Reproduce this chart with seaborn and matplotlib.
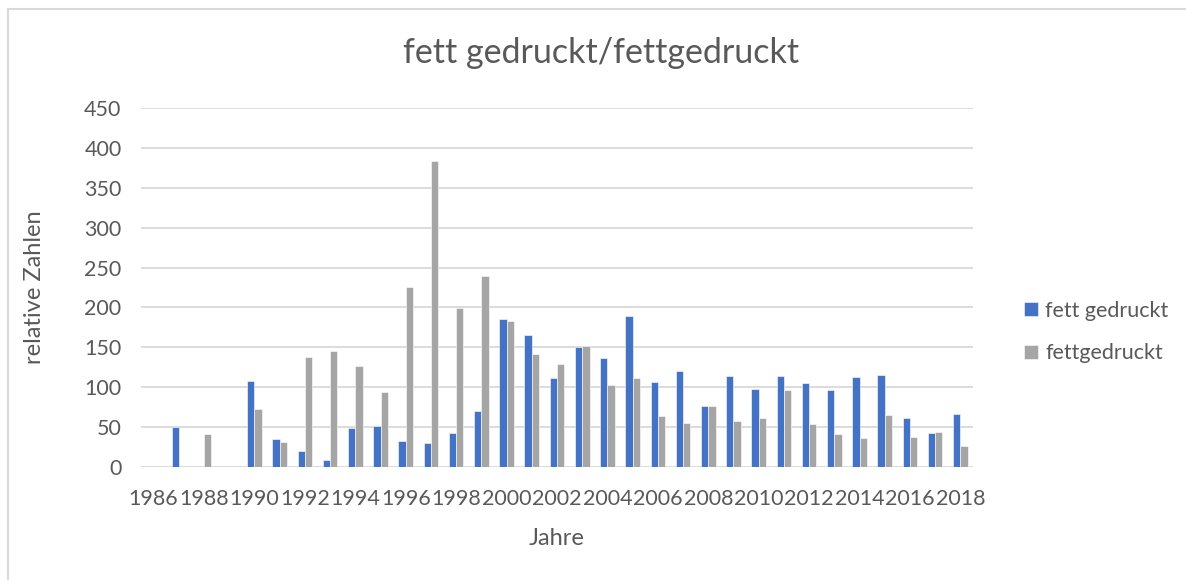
import numpy as np
import pandas as pd
import seaborn as sns
import matplotlib.pyplot as plt
from matplotlib.patches import Rectangle

# --- data ---
YEARS = list(range(1986, 2019))
FETT_GEDRUCKT = [np.nan, 50, np.nan, np.nan, 108, 35, 20, 9, 49, 52, 32, 30, 42, 70,
                 185, 166, 111, 150, 137, 189, 106, 120, 76, 114, 98, 114, 105, 97,
                 113, 115, 62, 42, 66]
FETTGEDRUCKT = [np.nan, np.nan, 41, np.nan, 73, 31, 138, 145, 127, 94, 226, 384, 199, 239,
                183, 142, 129, 152, 103, 111, 64, 55, 76, 58, 61, 96, 54, 41,
                36, 65, 37, 44, 26]
SERIES = ["fett gedruckt", "fettgedruckt"]
COLORS = ["#4472C4", "#A5A5A5"]
TEXT = "#595959"

df = pd.DataFrame({
    "Jahr": [str(y) for y in YEARS] * 2,
    "Wert": FETT_GEDRUCKT + FETTGEDRUCKT,
    "Reihe": [SERIES[0]] * len(YEARS) + [SERIES[1]] * len(YEARS),
})

sns.set_theme(style="white")
plt.rcParams['font.family'] = ['Lato', 'DejaVu Sans']

fig = plt.figure(figsize=(11.86, 5.8), dpi=100)
ax = fig.add_axes([141 / 1186, 1 - 467 / 580, (973 - 141) / 1186, (467 - 108) / 580])

sns.barplot(data=df, x="Jahr", y="Wert", hue="Reihe", palette=COLORS, saturation=1,
            width=0.58, ax=ax, edgecolor="white", linewidth=0.4, legend=True)

ax.set_ylim(0, 450)
ax.set_yticks(range(0, 451, 50))
ax.set_xlim(-0.5, len(YEARS) - 0.5)
ax.set_xticks(range(0, len(YEARS), 2))
ax.set_xticklabels([str(y) for y in YEARS[::2]])
ax.tick_params(axis='both', labelsize=15.5, colors=TEXT, length=0)
ax.tick_params(axis='x', pad=16)
ax.tick_params(axis='y', pad=14)
ax.grid(axis='y', color="#D9D9D9", linewidth=1.3)
ax.set_axisbelow(True)
for s in ax.spines.values():
    s.set_visible(False)

ax.set_xlabel("Jahre", fontsize=17, color=TEXT)
ax.set_ylabel("relative Zahlen", fontsize=17, color=TEXT)
ax.xaxis.set_label_coords(0.5, -0.17)
ax.yaxis.set_label_coords(-0.115, 0.5)
fig.text(0.507, 0.909, "fett gedruckt/fettgedruckt", ha='center', va='center',
         fontsize=24.5, color=TEXT)

ax.legend(loc='center left', bbox_to_anchor=(1.061, 0.376), frameon=False,
          borderpad=0, borderaxespad=0,
          fontsize=15.5, labelcolor=TEXT, handlelength=0.65, handleheight=0.65,
          handletextpad=0.35, labelspacing=1.05)

# chart border
fig.patches.append(Rectangle((8 / 1186, -0.01), 1.0, 1 - 9.5 / 580 + 0.01,
                             transform=fig.transFigure, fill=False,
                             edgecolor="#D9D9D9", linewidth=1.5))

fig.savefig("out.png", dpi=100)
